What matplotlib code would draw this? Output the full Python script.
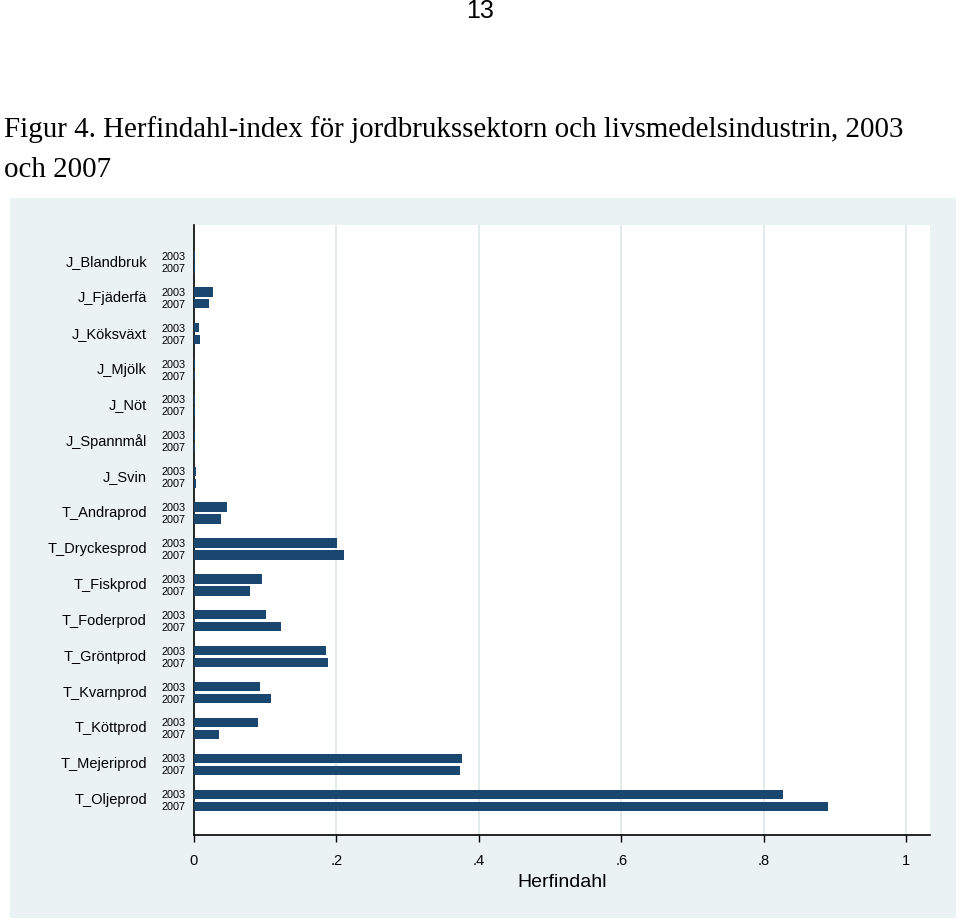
import numpy as np
import matplotlib
matplotlib.use('Agg')
import matplotlib.pyplot as plt
import matplotlib.transforms as mtrans
from matplotlib.patches import Rectangle

# data
categories = ['J_Blandbruk', 'J_Fjäderfä', 'J_Köksväxt', 'J_Mjölk', 'J_Nöt',
              'J_Spannmål', 'J_Svin', 'T_Andraprod', 'T_Dryckesprod', 'T_Fiskprod',
              'T_Foderprod', 'T_Gröntprod', 'T_Kvarnprod', 'T_Köttprod',
              'T_Mejeriprod', 'T_Oljeprod']
years = ['2003', '2007']
h2003 = [0.001, 0.027, 0.007, 0.001, 0.001, 0.001, 0.003, 0.046, 0.201, 0.096,
         0.101, 0.185, 0.092, 0.090, 0.376, 0.827]
h2007 = [0.001, 0.021, 0.008, 0.001, 0.001, 0.001, 0.003, 0.038, 0.211, 0.079,
         0.122, 0.188, 0.108, 0.035, 0.373, 0.891]
xticks = [0, 0.2, 0.4, 0.6, 0.8, 1.0]
xticklabels = ['0', '.2', '.4', '.6', '.8', '1']

navy = '#1a476f'
bg = '#eaf2f3'
W, H = 960, 924

plt.rcParams['font.family'] = ['Liberation Sans', 'DejaVu Sans']
fig = plt.figure(figsize=(W / 100, H / 100), dpi=100)

# page number and caption
fig.text(480 / W, 1 - 11 / H, '13', ha='center', va='center', fontsize=18)
fig.text(4 / W, 1 - 130 / H,
         'Figur 4. Herfindahl-index för jordbrukssektorn och livsmedelsindustrin, 2003',
         ha='left', va='center', fontsize=20.9, family='Liberation Serif')
fig.text(4 / W, 1 - 170 / H, 'och 2007', ha='left', va='center', fontsize=20.9,
         family='Liberation Serif')

# stata graph region
fig.patches.append(Rectangle((10 / W, 1 - 918 / H), 946 / W, 720 / H,
                             transform=fig.transFigure, facecolor=bg,
                             edgecolor='none', zorder=-10))

ax = fig.add_axes([194 / W, 1 - 835 / H, 736 / W, 610 / H])
ax.set_zorder(5)
ax.set_facecolor('white')

n = len(categories)
pos = np.arange(n)
off = 0.167
bh = 0.26
ax.barh(pos - off, h2003, height=bh, color=navy, zorder=3)
ax.barh(pos + off, h2007, height=bh, color=navy, zorder=3)

ax.set_ylim(n - 1 + 0.97, -1.03)
ax.set_xlim(0, 1.0336)

ytk = np.concatenate([pos - off, pos + off])
ylab = [years[0]] * n + [years[1]] * n
ax.set_yticks(ytk)
ax.set_yticklabels(ylab, fontsize=7.8)
ax.tick_params(axis='y', length=0, pad=6)

ax.set_xticks(xticks)
ax.set_xticklabels(xticklabels, fontsize=10.5)
ax.tick_params(axis='x', length=5, width=1, direction='out', pad=9)
for xv in xticks[1:]:
    ax.axvline(xv, color='#e0e8ea', lw=1.3, zorder=1)

ax.set_xlabel('Herfindahl', fontsize=14, labelpad=4)

for s in ['top', 'right']:
    ax.spines[s].set_visible(False)
ax.spines['left'].set_linewidth(1.2)
ax.spines['bottom'].set_linewidth(1.2)

# category labels
tr = mtrans.blended_transform_factory(fig.transFigure, ax.transData)
for i, c in enumerate(categories):
    ax.text(147 / W, pos[i], c, transform=tr, ha='right', va='center',
            fontsize=10.5, clip_on=False)

fig.savefig('out.png', dpi=100, facecolor='white')
